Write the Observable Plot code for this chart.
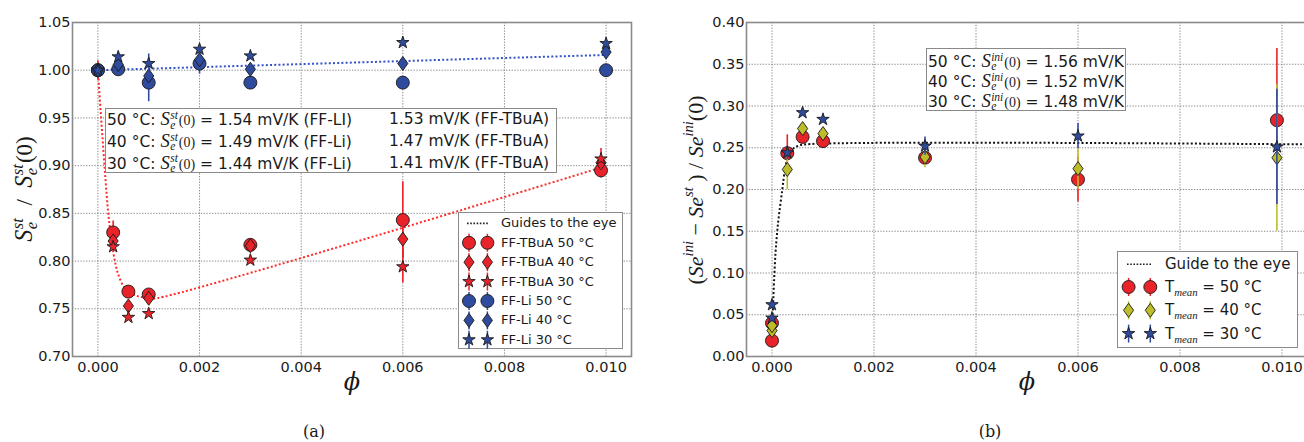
<!DOCTYPE html>
<html><head><meta charset="utf-8">
<script src="https://cdn.jsdelivr.net/npm/d3@7"></script>
<script src="https://cdn.jsdelivr.net/npm/@observablehq/plot@0.6"></script>
<style>
body{margin:0;background:#fff;}
#wrap{position:relative;width:1304px;height:442px;overflow:hidden;background:#fff;font-family:"DejaVu Sans",sans-serif;color:#1a1a1a;}
.box{position:absolute;background:#fff;border:1.3px solid #8a8a8a;box-sizing:border-box;}
.row{position:absolute;white-space:nowrap;}
.mS{font-family:"Liberation Serif",serif;font-style:italic;font-size:1.2em;}
.ss{display:inline-flex;flex-direction:column;vertical-align:0.55em;font-family:"Liberation Serif",serif;font-style:italic;font-size:0.74em;line-height:0.85;margin-left:0.5px;margin-right:1px;}
.mp{font-family:"Liberation Serif",serif;font-size:0.9em;}
.yl .mS{font-size:1.05em;}
.yl .ss{font-size:0.72em;}
.yl .mp{font-size:1em;}
.ser{font-family:"Liberation Serif",serif;}
.it{font-family:"Liberation Serif",serif;font-style:italic;}
.sup{font-family:"Liberation Serif",serif;font-style:italic;font-size:0.66em;vertical-align:0.65em;}
.sub{font-family:"Liberation Serif",serif;font-style:italic;font-size:0.72em;vertical-align:-0.35em;}
</style></head><body><div id="wrap"></div>
<script>
// ---------------- DATA ----------------
const xTicks = [0, 0.002, 0.004, 0.006, 0.008, 0.010];
const yTicksA = [0.70, 0.75, 0.80, 0.85, 0.90, 0.95, 1.00, 1.05];
const yTicksB = [0.00, 0.05, 0.10, 0.15, 0.20, 0.25, 0.30, 0.35, 0.40];

// (a) normalised stationary Seebeck coefficient
const phiTBuA = [0, 0.0003, 0.0006, 0.001, 0.003, 0.006, 0.0099];
const tbua50 = [1.000, 0.830, 0.768, 0.765, 0.817, 0.843, 0.895];
const tbua50Err = [0.010, 0.012, 0.004, 0.004, 0.006, 0.040, 0.008];
const tbua40 = [1.000, 0.821, 0.753, 0.761, 0.816, 0.823, 0.903];
const tbua40Err = [0.005, 0.005, 0.004, 0.004, 0.005, 0.020, 0.006];
const tbua30 = [1.000, 0.815, 0.741, 0.745, 0.801, 0.794, 0.907];
const tbua30Err = [0.005, 0.005, 0.003, 0.003, 0.004, 0.017, 0.011];

const phiLi = [0, 0.0004, 0.001, 0.002, 0.003, 0.006, 0.010];
const li50 = [1.000, 1.001, 0.987, 1.007, 0.987, 0.987, 1.000];
const li50Err = [0.003, 0.004, 0.020, 0.011, 0.004, 0.004, 0.003];
const li40 = [1.000, 1.006, 0.994, 1.011, 1.001, 1.007, 1.019];
const li40Err = [0.003, 0.004, 0.006, 0.004, 0.004, 0.004, 0.003];
const li30 = [1.000, 1.014, 1.007, 1.022, 1.015, 1.029, 1.028];
const li30Err = [0.003, 0.004, 0.010, 0.004, 0.004, 0.004, 0.003];

const guideRedPhi = [0, 0.00005, 0.0001, 0.00015, 0.0002, 0.00025, 0.0003, 0.00035, 0.0004, 0.0005, 0.0006, 0.0007, 0.0008, 0.0009, 0.001, 0.0011, 0.0099];
const guideRed = [1.000, 0.960, 0.922, 0.885, 0.852, 0.828, 0.810, 0.796, 0.786, 0.774, 0.768, 0.765, 0.763, 0.762, 0.761, 0.7605, 0.898];
const guideBluePhi = [0, 0.010];
const guideBlue = [1.000, 1.016];

// (b) relative drop of the Seebeck coefficient
const phiB = [0, 0, 0.0003, 0.0006, 0.001, 0.003, 0.006, 0.0099];
const t50 = [0.019, 0.040, 0.2435, 0.263, 0.258, 0.238, 0.212, 0.283];
const t50Err = [0.004, 0.004, 0.022, 0.006, 0.009, 0.008, 0.027, 0.086];
const t40 = [0.031, 0.037, 0.224, 0.273, 0.267, 0.239, 0.225, 0.238];
const t40Err = [0.004, 0.004, 0.024, 0.006, 0.006, 0.013, 0.025, 0.088];
const t30 = [0.046, 0.062, 0.244, 0.292, 0.284, 0.252, 0.264, 0.251];
const t30Err = [0.004, 0.004, 0.008, 0.004, 0.004, 0.011, 0.015, 0.069];

const guideBPhi = [0, 0.00002, 0.00004, 0.00007, 0.0001, 0.00013, 0.0002, 0.00026, 0.00032, 0.0004, 0.0005, 0.00065, 0.0105];
const guideB = [0.035, 0.060, 0.090, 0.125, 0.148, 0.166, 0.199, 0.226, 0.240, 0.248, 0.252, 0.254, 0.254];

const legendA = ["FF-TBuA 50 °C", "FF-TBuA 40 °C", "FF-TBuA 30 °C", "FF-Li 50 °C", "FF-Li 40 °C", "FF-Li 30 °C"];
const boxA = [["50 °C", "1.54", "FF-LI", "1.53"], ["40 °C", "1.49", "FF-Li", "1.47"], ["30 °C", "1.44", "FF-Li", "1.41"]];
const boxB = [["50 °C", "1.56"], ["40 °C", "1.52"], ["30 °C", "1.48"]];
const legendBTemps = ["50 °C", "40 °C", "30 °C"];

// ---------------- STYLE ----------------
const RED = "#e8232a", BLUE = "#2f4b9e", OLIVE = "#bdbd2a";
// thin (tall) diamond, like matplotlib's "d" marker
const thinDiamond = {
  draw(ctx, size) {
    const h = Math.sqrt(size / Math.PI) * 1.08, w = h * 0.72;
    ctx.moveTo(0, -h); ctx.lineTo(w, 0); ctx.lineTo(0, h); ctx.lineTo(-w, 0); ctx.closePath();
  }
};
const SYM = {
  c: {symbol: "circle", r: 6.5, d3: d3.symbolCircle},
  d: {symbol: thinDiamond, r: 6.5, d3: thinDiamond},
  s: {symbol: "star", r: 3.9, d3: d3.symbolStar}
};
const gridStyle = {stroke: "#7a7a7a", strokeOpacity: 1, strokeWidth: 0.9, strokeDasharray: "1.3,1.5"};
const guideStyle = {strokeWidth: 2, strokeDasharray: "2,2.2", strokeLinecap: "butt", strokeLinejoin: "miter"};
const fmt3 = d3.format(".3f"), fmt2 = d3.format(".2f");
const plotStyle = {fontFamily: "DejaVu Sans", fontSize: "14.5px", background: "transparent", color: "#1a1a1a", overflow: "visible"};

function rows(phi, v, e) { return phi.map((p, i) => ({phi: p, v: v[i], lo: v[i] - e[i], hi: v[i] + e[i]})); }
function pts(phi, v) { return phi.map((p, i) => ({phi: p, v: v[i]})); }
function seriesMarks(data, color, sym) {
  return [
    Plot.ruleX(data, {x: "phi", y1: "lo", y2: "hi", stroke: color, strokeWidth: 1.6}),
    Plot.dot(data, {x: "phi", y: "v", symbol: sym.symbol, r: sym.r, fill: color, stroke: "#1a1a1a", strokeWidth: 0.9})
  ];
}

const wrap = document.getElementById("wrap");

// ---------------- PLOT A ----------------
const plotA = Plot.plot({
  width: 660, height: 442, marginLeft: 72, marginRight: 29, marginTop: 22, marginBottom: 86,
  style: plotStyle,
  x: {domain: [-0.0005, 0.0105]},
  y: {domain: [0.70, 1.05]},
  marks: [
    Plot.gridX(xTicks, gridStyle),
    Plot.gridY(yTicksA, gridStyle),
    Plot.axisX(xTicks, {tickSize: 0, tickPadding: 5, tickFormat: fmt3, label: null}),
    Plot.axisY(yTicksA, {tickSize: 0, tickPadding: 2, tickFormat: fmt2, label: null}),
    Plot.line(pts(guideBluePhi, guideBlue), {x: "phi", y: "v", stroke: "#3553c8", ...guideStyle}),
    Plot.line(pts(guideRedPhi, guideRed), {x: "phi", y: "v", stroke: "#ff2a2a", curve: "catmull-rom", ...guideStyle}),
    ...seriesMarks(rows(phiTBuA, tbua50, tbua50Err), RED, SYM.c),
    ...seriesMarks(rows(phiTBuA, tbua40, tbua40Err), RED, SYM.d),
    ...seriesMarks(rows(phiTBuA, tbua30, tbua30Err), RED, SYM.s),
    ...seriesMarks(rows(phiLi, li50, li50Err), BLUE, SYM.c),
    ...seriesMarks(rows(phiLi, li40, li40Err), BLUE, SYM.d),
    ...seriesMarks(rows(phiLi, li30, li30Err), BLUE, SYM.s),
    Plot.frame({stroke: "#8a8a8a", strokeWidth: 1.6})
  ]
});
plotA.style.position = "absolute"; plotA.style.left = "0px"; plotA.style.top = "0px";
wrap.appendChild(plotA);

// ---------------- PLOT B ----------------
const plotB = Plot.plot({
  width: 660, height: 442, marginLeft: 96, marginRight: 3, marginTop: 22, marginBottom: 86,
  style: plotStyle,
  x: {domain: [-0.0005, 0.0105]},
  y: {domain: [0, 0.40]},
  marks: [
    Plot.gridX(xTicks, gridStyle),
    Plot.gridY(yTicksB, gridStyle),
    Plot.axisX(xTicks, {tickSize: 0, tickPadding: 5, tickFormat: fmt3, label: null}),
    Plot.axisY(yTicksB, {tickSize: 0, tickPadding: 2, tickFormat: fmt2, label: null}),
    Plot.line(pts(guideBPhi, guideB), {x: "phi", y: "v", stroke: "#111", curve: "catmull-rom", ...guideStyle}),
    ...seriesMarks(rows(phiB, t50, t50Err), RED, SYM.c),
    ...seriesMarks(rows(phiB, t40, t40Err), OLIVE, SYM.d),
    ...seriesMarks(rows(phiB, t30, t30Err), BLUE, SYM.s),
    Plot.frame({stroke: "#8a8a8a", strokeWidth: 1.6})
  ]
});
plotB.style.position = "absolute"; plotB.style.left = "650px"; plotB.style.top = "0px";
wrap.appendChild(plotB);

// ---------------- HTML overlays ----------------
function el(html, css, cls) {
  const d = document.createElement("div");
  if (cls) d.className = cls;
  d.innerHTML = html;
  d.style.position = "absolute";
  const parent = css.parent || wrap;
  const c = Object.assign({}, css); delete c.parent;
  Object.assign(d.style, c);
  parent.appendChild(d);
  return d;
}
function Se(sup, paren) {
  return `<span class="mS">S</span><span class="ss"><span>${sup}</span><span>e</span></span>` + (paren ? `<span class="mp">(0)</span>` : "");
}

// text box (a)
const tbA = el("", {left: "105px", top: "108px", width: "452px", height: "65px"}, "box");
boxA.forEach((r, i) => {
  const top = 10.3 + i * 21.6 - 11;
  el(`${r[0]}: ${Se("st", true)} = ${r[1]} mV/K (${r[2]})`, {parent: tbA, left: "1px", top: top + "px", lineHeight: "22px", fontSize: "15.5px"}, "row");
  el(`${r[3]} mV/K (FF-TBuA)`, {parent: tbA, left: "283px", top: top + "px", lineHeight: "22px", fontSize: "15.5px"}, "row");
});

// text box (b)
const tbB = el("", {left: "926px", top: "48px", width: "200px", height: "63px"}, "box");
boxB.forEach((r, i) => {
  const top = 12 + i * 20 - 11;
  el(`${r[0]}: ${Se("ini", true)} = ${r[1]} mV/K`, {parent: tbB, left: "1px", top: top + "px", lineHeight: "22px", fontSize: "15.5px"}, "row");
});

// legend helpers
function symPath(sym, r) { return d3.symbol(sym.d3, r * r * Math.PI)(); }
function legendSvg(box, w, h) {
  const svg = d3.create("svg").attr("width", w).attr("height", h).style("position", "absolute").style("left", "0px").style("top", "0px").style("overflow", "visible");
  box.appendChild(svg.node());
  return svg;
}
function legendSymbol(svg, x, y, sym, color) {
  svg.append("line").attr("x1", x).attr("x2", x).attr("y1", y - 9).attr("y2", y + 9).attr("stroke", color).attr("stroke-width", 1.5);
  svg.append("path").attr("d", symPath(sym, sym.r)).attr("transform", `translate(${x},${y})`).attr("fill", color).attr("stroke", "#1a1a1a").attr("stroke-width", 0.9);
}

// legend (a)
const lgA = el("", {left: "458px", top: "212px", width: "165px", height: "137px"}, "box");
const svgA = legendSvg(lgA, 165, 137);
const rowYA = [10.4, 29.8, 49.2, 68.6, 88, 107.4, 126.8];
svgA.append("line").attr("x1", 8).attr("x2", 30).attr("y1", rowYA[0]).attr("y2", rowYA[0]).attr("stroke", "#222").attr("stroke-width", 1.6).attr("stroke-dasharray", "1.6,1.6");
el("Guides to the eye", {parent: lgA, left: "42px", top: (rowYA[0] - 10) + "px", lineHeight: "20px", fontSize: "13px"}, "row");
const symOrder = [SYM.c, SYM.d, SYM.s, SYM.c, SYM.d, SYM.s];
legendA.forEach((t, i) => {
  const y = rowYA[i + 1], col = i < 3 ? RED : BLUE;
  legendSymbol(svgA, 10, y, symOrder[i], col);
  legendSymbol(svgA, 28.4, y, symOrder[i], col);
  el(t, {parent: lgA, left: "42px", top: (y - 10) + "px", lineHeight: "20px", fontSize: "13px"}, "row");
});

// legend (b)
const lgB = el("", {left: "1117px", top: "251px", width: "181px", height: "97px"}, "box");
const svgB = legendSvg(lgB, 181, 97);
const rowYB = [12.3, 35, 58.3, 81.6];
svgB.append("line").attr("x1", 9).attr("x2", 33).attr("y1", rowYB[0]).attr("y2", rowYB[0]).attr("stroke", "#222").attr("stroke-width", 1.6).attr("stroke-dasharray", "1.6,1.6");
el("Guide to the eye", {parent: lgB, left: "47px", top: (rowYB[0] - 11) + "px", lineHeight: "22px", fontSize: "15px"}, "row");
const colB = [RED, OLIVE, BLUE], symB = [SYM.c, SYM.d, SYM.s];
legendBTemps.forEach((t, i) => {
  const y = rowYB[i + 1];
  legendSymbol(svgB, 10.6, y, symB[i], colB[i]);
  legendSymbol(svgB, 32.3, y, symB[i], colB[i]);
  el(`T<span class="sub">mean</span> = ${t}`, {parent: lgB, left: "47px", top: (y - 11) + "px", lineHeight: "22px", fontSize: "15px"}, "row");
});

// axis labels
el(`${Se("st", false)}&nbsp; / &nbsp;${Se("st", true)}`, {left: "25px", top: "189px", transform: "translate(-50%,-50%) rotate(-90deg)", fontSize: "23px", whiteSpace: "nowrap", lineHeight: "26px"}, "ser yl");
el(`(<span class="it">Se</span><span class="sup">ini</span> − <span class="it">Se</span><span class="sup">st</span> ) / <span class="it">Se</span><span class="sup">ini</span><span class="ser">(0)</span>`,
   {left: "692px", top: "190px", transform: "translate(-50%,-50%) rotate(-90deg)", fontSize: "22px", whiteSpace: "nowrap", lineHeight: "24px"}, "ser");
el("ϕ", {left: "352px", top: "382px", transform: "translate(-50%,-50%)", fontSize: "24px", fontFamily: "DejaVu Serif", fontStyle: "italic"});
el("ϕ", {left: "1027px", top: "382px", transform: "translate(-50%,-50%)", fontSize: "24px", fontFamily: "DejaVu Serif", fontStyle: "italic"});

// captions
el("(a)", {left: "314px", top: "431px", transform: "translate(-50%,-50%)", fontSize: "16px", fontFamily: "DejaVu Serif"});
el("(b)", {left: "990px", top: "431px", transform: "translate(-50%,-50%)", fontSize: "16px", fontFamily: "DejaVu Serif"});
</script></body></html>
